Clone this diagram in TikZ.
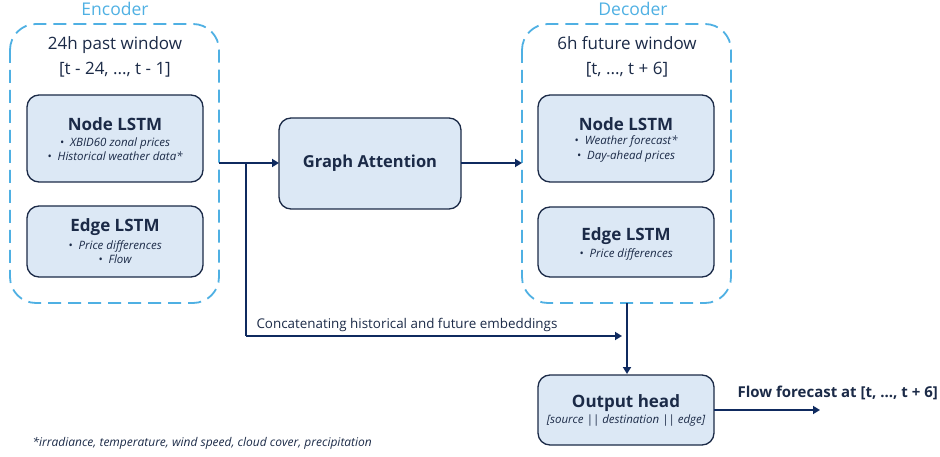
\documentclass[tikz,border=0pt]{standalone}
\usepackage{fontspec}
\setmainfont{Open Sans}
\usetikzlibrary{arrows.meta}
\definecolor{navy}{HTML}{1B2A47}
\definecolor{arrowc}{HTML}{0F2A5F}
\definecolor{skyline}{HTML}{4FB0E3}
\definecolor{boxfill}{HTML}{DCE8F5}
\newcommand{\itemdot}{\textbullet\hspace{6pt}}
\tikzset{
  x=1pt, y=-1pt,
  groupbox/.style={draw=skyline, line width=1.8pt, dash pattern=on 13pt off 7pt, rounded corners=26pt},
  blockbox/.style={draw=navy, fill=boxfill, line width=1.3pt, rounded corners=12pt},
  grouplabel/.style={text=skyline, font=\fontsize{17.5}{20}\selectfont},
  wintext/.style={text=navy, font=\fontsize{17}{25}\selectfont, align=center},
  title/.style={text=navy, font=\bfseries\fontsize{17}{20}\selectfont},
  items/.style={text=navy, font=\itshape\fontsize{11.5}{14.5}\selectfont, align=center},
  flow/.style={draw=arrowc, line width=2.2pt, -{Triangle[length=7pt,width=8pt]}},
  flowline/.style={draw=arrowc, line width=2.2pt},
}
\begin{document}
\begin{tikzpicture}
\useasboundingbox (0,0) rectangle (940,457);

% encoder group
\node[grouplabel] (enclab) at (115,9) {Encoder};
\draw[groupbox] (10,24) rectangle (219,303);
\node[wintext] (encwin) at (115,57) {24h past window\\{[t - 24, ..., t - 1]}};
\draw[blockbox] (27,95) rectangle (203,182);
\node[title] (encnode) at (115,124) {Node LSTM};
\node[items] (encnodei) at (115,149) {\itemdot XBID60 zonal prices\\\itemdot Historical weather data*};
\draw[blockbox] (27,206) rectangle (203,277);
\node[title] (encedge) at (115,227) {Edge LSTM};
\node[items] (encedgei) at (115,252) {\itemdot Price differences\\\itemdot Flow};
\coordinate (encout) at (219,163);

% graph attention
\draw[blockbox] (279,118) rectangle (461,209);
\node[title, font=\bfseries\fontsize{16.5}{20}\selectfont] (gat) at (370,163) {Graph Attention};
\coordinate (gatin) at (279,163);
\coordinate (gatout) at (461,163);

% decoder group
\node[grouplabel] (declab) at (633,9) {Decoder};
\draw[groupbox] (522,24) rectangle (731,303);
\node[wintext] (decwin) at (627,57) {6h future window\\{[t, ..., t + 6]}};
\draw[blockbox] (538,95) rectangle (714,182);
\node[title] (decnode) at (626,124) {Node LSTM};
\node[items] (decnodei) at (626,149) {\itemdot Weather forecast*\\\itemdot Day-ahead prices};
\draw[blockbox] (538,207) rectangle (714,277);
\node[title] (decedge) at (626,236) {Edge LSTM};
\node[items] (decedgei) at (626,254) {\itemdot Price differences};
\coordinate (decin) at (522,163);
\coordinate (decout) at (627,303);

% output head
\draw[blockbox] (538,375) rectangle (714,445);
\node[title] (outhead) at (626,403) {Output head};
\node[items] (outheadi) at (626,421) {[source || destination || edge]};
\coordinate (outin) at (627,374);
\coordinate (outright) at (714,410);
\coordinate (outend) at (820,410);

% connectors
\coordinate (branch) at (246,163);
\coordinate (corner) at (246,336);
\coordinate (concatend) at (622,336);
\draw[flow] (encout) -- (gatin);
\draw[flow] (gatout) -- (decin);
\draw[flowline] (branch) -- (corner);
\draw[flow] (corner) -- (concatend);
\draw[flow] (decout) -- (outin);
\draw[flow] (outright) -- (outend);

\node[text=navy, font=\fontsize{13.4}{14}\selectfont, anchor=west] (concatlab) at (253,325) {Concatenating historical and future embeddings};
\node[text=navy, font=\bfseries\fontsize{15}{16}\selectfont, anchor=west] (flowlab) at (734,393) {Flow forecast at [t, ..., t + 6]};
\node[text=navy, font=\itshape\fontsize{12}{12}\selectfont, anchor=west] (foot) at (29,443) {*irradiance, temperature, wind speed, cloud cover, precipitation};
\end{tikzpicture}
\end{document}
